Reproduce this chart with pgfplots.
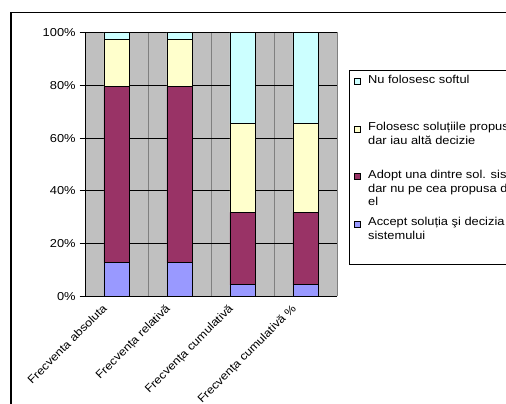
\documentclass[border=0pt]{standalone}
\usepackage{pgfplots}
\pgfplotsset{compat=1.18}
\usepackage{fontspec}
\setmainfont{Liberation Sans}[FakeStretch=1.12]
\definecolor{cBlue}{HTML}{9999FF}
\definecolor{cMaroon}{HTML}{993366}
\definecolor{cYellow}{HTML}{FFFFCC}
\definecolor{cCyan}{HTML}{CCFFFF}
\definecolor{cBg}{HTML}{C0C0C0}
\definecolor{cGrid}{HTML}{808080}
\newcommand{\legtxt}[1]{\parbox[b][30.25pt][t]{150pt}{\raggedright #1}}
\begin{document}
\fontsize{8.6}{10.4}\selectfont
\begin{tikzpicture}
\useasboundingbox (0pt,0pt) rectangle (379.5pt,302.25pt);
\clip (0pt,0pt) rectangle (379.5pt,302.25pt);
\fill[white] (0pt,0pt) rectangle (379.5pt,302.25pt);
\draw[black, line width=0.8pt] (8.25pt,-15pt) rectangle (400pt,292.9pt);
\begin{axis}[
  at={(63.75pt,79.9pt)}, anchor=south west,
  scale only axis, width=189pt, height=198pt,
  xmin=0, xmax=4, ymin=0, ymax=100,
  ybar stacked, bar width=0.397,
  axis background/.style={fill=cBg},
  axis line style={cGrid, line width=0.6pt},
  separate axis lines,
  x axis line style={black}, y axis line style={black},
  axis x line*=bottom, axis y line*=left,
  tick align=outside,
  ytick={0,20,40,60,80,100},
  yticklabel={\pgfmathprintnumber{\tick}\%},
  /pgf/number format/assume math mode=true,
  ymajorgrids, major grid style={black, line width=0.6pt},
  major tick length=4pt, tick style={black, line width=0.6pt},
  xtick={0.5,1.5,2.5,3.5},
  xticklabels={Frecventa absoluta, Frecvența relativă, Frecvența cumulativă, Frecvența cumulativă \%},
  x tick style={draw=none},
  minor xtick={0,1,2,3,4},
  xminorgrids, minor grid style={cGrid, line width=0.6pt},
  minor tick length=4.5pt, minor x tick style={black, line width=0.6pt},
  xticklabel style={xshift=-11pt, yshift=0.5pt, rotate=45, anchor=north east, inner sep=1pt, font=\fontsize{8.4}{10}\selectfont},
  yticklabel style={font=\fontsize{8.6}{10}\selectfont},
  reverse legend,
  legend image code/.code={\draw[#1, draw=black, line width=0.4pt] (0pt,8.6pt) rectangle (4.5pt,13.1pt); \path (8.5pt,-13.1pt);},
  legend style={at={(1.0476,0.858)}, anchor=north west, draw=black, line width=0.8pt, fill=white,
     inner xsep=3pt, inner ysep=1.5pt, font=\fontsize{8.6}{10.4}\selectfont, row sep=0pt,
     nodes={anchor=center},
     /tikz/every even column/.append style={column sep=2pt}},
  every axis plot/.append style={draw=black, line width=0.6pt},
]
\addplot[fill=cBlue] coordinates {(0.5,12.82) (1.5,12.82) (2.5,4.42) (3.5,4.42)};
\addlegendentry{\legtxt{Accept soluția şi decizia\\sistemului}}
\addplot[fill=cMaroon] coordinates {(0.5,66.67) (1.5,66.67) (2.5,27.43) (3.5,27.43)};
\addlegendentry{\legtxt{Adopt una dintre sol. sistemului\\dar nu pe cea propusa de\\el}}
\addplot[fill=cYellow] coordinates {(0.5,17.95) (1.5,17.95) (2.5,33.63) (3.5,33.63)};
\addlegendentry{\legtxt{Folosesc soluțiile propuse\\dar iau altă decizie}}
\addplot[fill=cCyan] coordinates {(0.5,2.56) (1.5,2.56) (2.5,34.52) (3.5,34.52)};
\addlegendentry{\legtxt{Nu folosesc softul}}
\end{axis}
\end{tikzpicture}
\end{document}
